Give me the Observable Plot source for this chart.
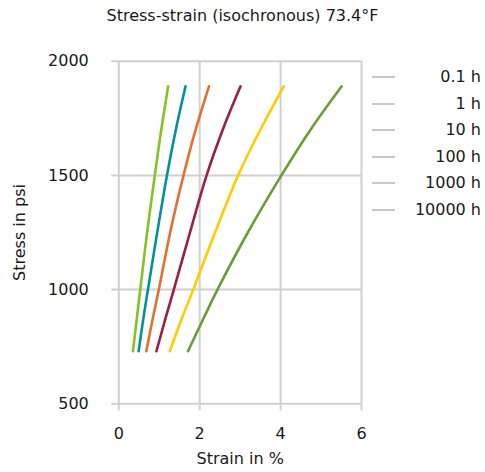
<!DOCTYPE html>
<html>
<head>
<meta charset="utf-8">
<script src="https://cdn.jsdelivr.net/npm/d3@7"></script>
<script src="https://cdn.jsdelivr.net/npm/@observablehq/plot@0.6"></script>
<style>
  html, body { margin: 0; padding: 0; background: #fff; }
  #wrap { position: relative; width: 485px; height: 472px; font-family: "DejaVu Sans", sans-serif; color: #1a1a1a; }
  #title { height: 30px; line-height: 32px; text-align: center; font-size: 16px; padding-left: 0px; }
  #legend { position: absolute; left: 0; top: 0; width: 485px; height: 240px; pointer-events: none; }
  .lrow { position: absolute; left: 372px; width: 109px; height: 20px; }
  .lsw { position: absolute; left: 0; top: 9px; width: 23px; height: 2px; background: #c8c8c8; }
  .ltx { position: absolute; right: 0; top: 0; font-size: 16px; line-height: 20px; white-space: nowrap; }
</style>
</head>
<body>
<div id="wrap">
  <div id="title">Stress-strain (isochronous) 73.4°F</div>
  <div id="chart"></div>
  <div id="legend"></div>
</div>
<script>
// ---- data ----
const series = ["0.1 h", "1 h", "10 h", "100 h", "1000 h", "10000 h"];
const seriesColors = ["#84c225", "#00929a", "#e2702e", "#9a1f45", "#ffcc00", "#6e9b3a"];
const stress = [730, 865, 1000, 1250, 1500, 1700, 1890];
const strain_01h    = [0.35, 0.44, 0.53, 0.70, 0.89, 1.05, 1.22];
const strain_1h     = [0.49, 0.60, 0.72, 0.95, 1.19, 1.41, 1.65];
const strain_10h    = [0.68, 0.83, 0.99, 1.27, 1.60, 1.90, 2.23];
const strain_100h   = [0.93, 1.14, 1.36, 1.76, 2.17, 2.57, 3.01];
const strain_1000h  = [1.26, 1.54, 1.84, 2.38, 2.95, 3.50, 4.08];
const strain_10000h = [1.71, 2.07, 2.44, 3.19, 4.02, 4.74, 5.51];
const xTicks = [0, 2, 4, 6];
const yTicks = [500, 1000, 1500, 2000];

const strainSets = [strain_01h, strain_1h, strain_10h, strain_100h, strain_1000h, strain_10000h];
const rows = [];
series.forEach((s, i) => {
  stress.forEach((p, j) => rows.push({series: s, stress: p, strain: strainSets[i][j]}));
});

const gridColor = "#d0d0d0";
const chart = Plot.plot({
  width: 485,
  height: 442,
  marginTop: 30.7,
  marginBottom: 68.7,
  marginLeft: 118.3,
  marginRight: 124,
  style: { fontFamily: "DejaVu Sans, sans-serif", fontSize: "16px", color: "#1a1a1a", background: "white", overflow: "visible" },
  x: { domain: [0, 6] },
  y: { domain: [500, 2000] },
  color: { domain: series, range: seriesColors },
  marks: [
    Plot.gridX(xTicks, { stroke: gridColor, strokeOpacity: 1, strokeWidth: 2 }),
    Plot.gridY(yTicks, { stroke: gridColor, strokeOpacity: 1, strokeWidth: 2 }),
    Plot.axisX(xTicks, { tickSize: 7, tickPadding: 17, stroke: gridColor, strokeWidth: 2, fill: "#1a1a1a",
      tickFormat: d => String(d),
      label: "Strain in %", labelAnchor: "center", labelOffset: 60, labelArrow: "none" }),
    Plot.axisY(yTicks, { tickSize: 7, tickPadding: 23, stroke: gridColor, strokeWidth: 2, fill: "#1a1a1a",
      tickFormat: d => String(d),
      label: "Stress in psi", labelAnchor: "center", labelOffset: 105, labelArrow: "none" }),
    Plot.line(rows, { x: "strain", y: "stress", z: "series", stroke: "series", strokeWidth: 2.6, curve: "catmull-rom" })
  ]
});
document.getElementById("chart").appendChild(chart);

// legend (grey swatches, as in the reference)
const legend = document.getElementById("legend");
series.forEach((s, i) => {
  const r = document.createElement("div");
  r.className = "lrow";
  r.style.top = (67 + i * 26.5) + "px";
  r.innerHTML = '<div class="lsw"></div><div class="ltx"></div>';
  r.querySelector(".ltx").textContent = s;
  legend.appendChild(r);
});
</script>
</body>
</html>
